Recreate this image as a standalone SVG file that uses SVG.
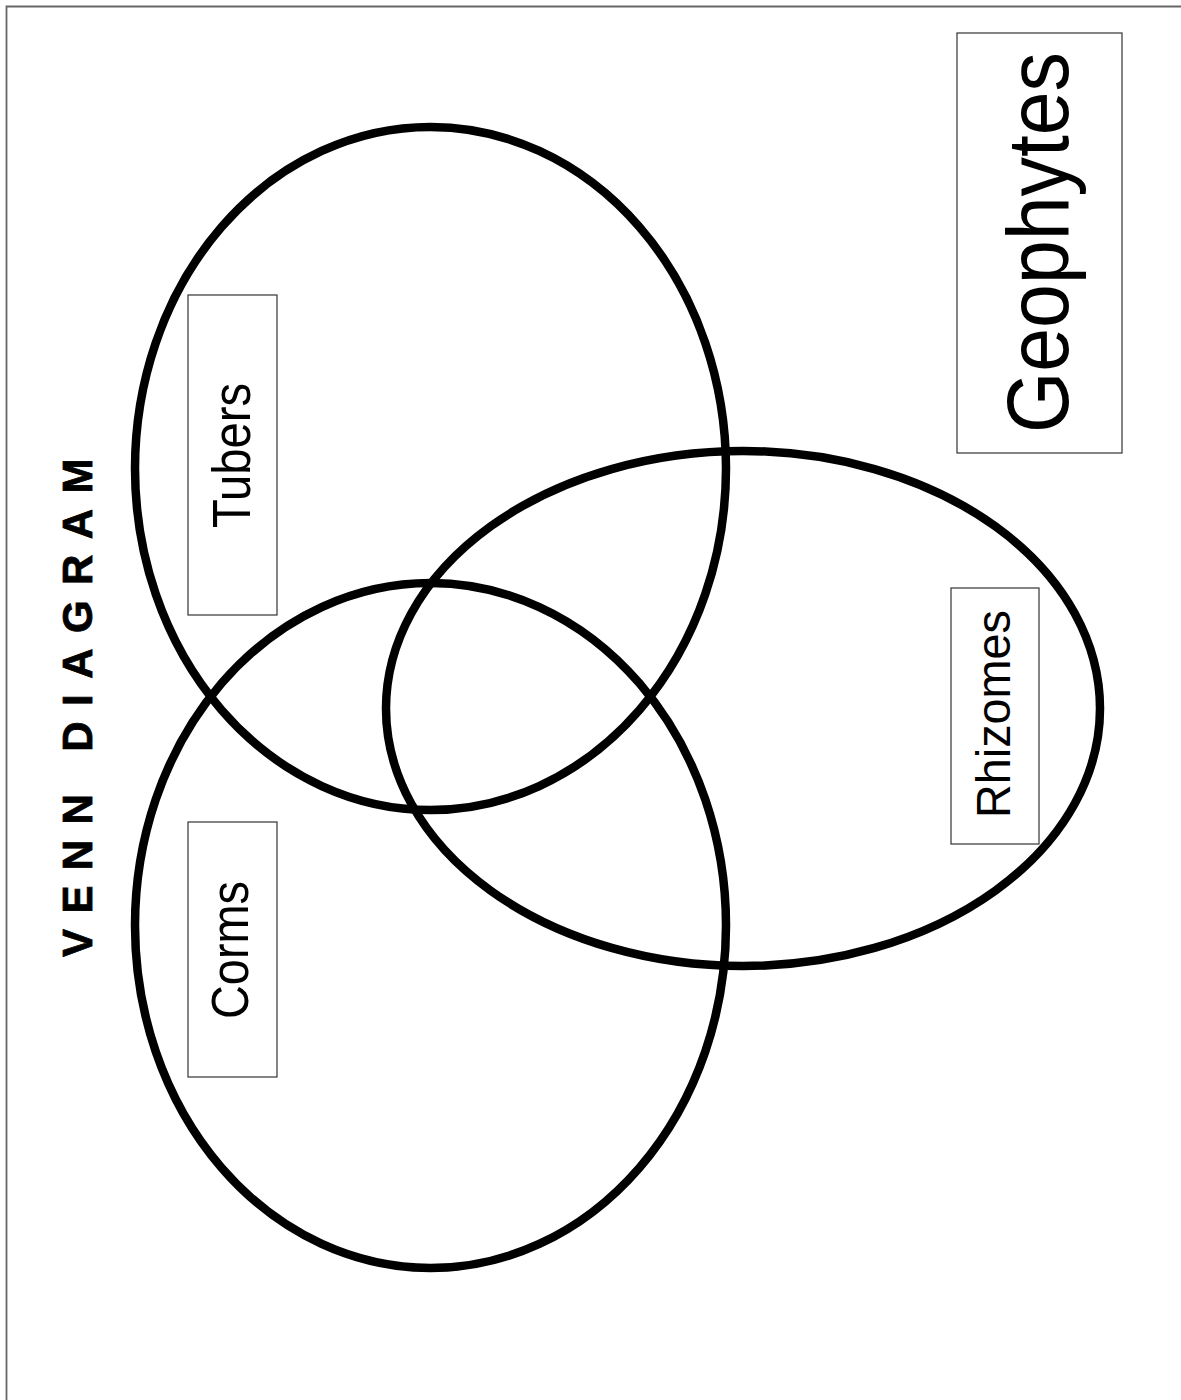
<svg xmlns="http://www.w3.org/2000/svg" width="1181" height="1400" viewBox="0 0 1181 1400">
<style>
.ring{fill:none;stroke:#000;stroke-width:8.5}
.box{fill:none;stroke:#333;stroke-width:1.2}
.lbl{font-family:"Liberation Sans",Arial,sans-serif;fill:#000;text-anchor:middle}
.title{font-family:"Liberation Sans",Arial,sans-serif;font-weight:bold;fill:#000;stroke:#000;stroke-width:0.8}
</style>
<rect width="1181" height="1400" fill="#fff"/>
<path d="M6.5,1400 V6.5 H1181" fill="none" stroke="#666" stroke-width="1.8"/>
<text class="title" font-size="42" letter-spacing="15.4" transform="translate(92,957) rotate(-90)">VENN DIAGRAM</text>
<g id="sets">
<g id="tubers-set"><ellipse class="ring" cx="430.5" cy="468.5" rx="295.5" ry="341.5"/></g>
<g id="corms-set"><ellipse class="ring" cx="430.5" cy="925.5" rx="295.5" ry="342.5"/></g>
<g id="rhizomes-set"><ellipse class="ring" cx="743" cy="708.5" rx="357" ry="257.5"/></g>
</g>
<g id="tubers">
<rect class="box" x="188" y="295" width="89" height="320"/>
<text class="lbl" font-size="53" textLength="145" lengthAdjust="spacingAndGlyphs" transform="translate(250,455.5) rotate(-90)">Tubers</text>
</g>
<g id="corms">
<rect class="box" x="188" y="822" width="89" height="255"/>
<text class="lbl" font-size="51" textLength="138" lengthAdjust="spacingAndGlyphs" transform="translate(248,950) rotate(-90)">Corms</text>
</g>
<g id="rhizomes">
<rect class="box" x="951" y="588" width="88" height="256"/>
<text class="lbl" font-size="49" textLength="208" lengthAdjust="spacingAndGlyphs" transform="translate(1010,714) rotate(-90)">Rhizomes</text>
</g>
<g id="geophytes">
<rect class="box" x="957" y="33" width="165" height="420"/>
<text class="lbl" font-size="88" textLength="381" lengthAdjust="spacingAndGlyphs" transform="translate(1068,242.5) rotate(-90)">Geophytes</text>
</g>
<g id="connectors"></g>
</svg>
